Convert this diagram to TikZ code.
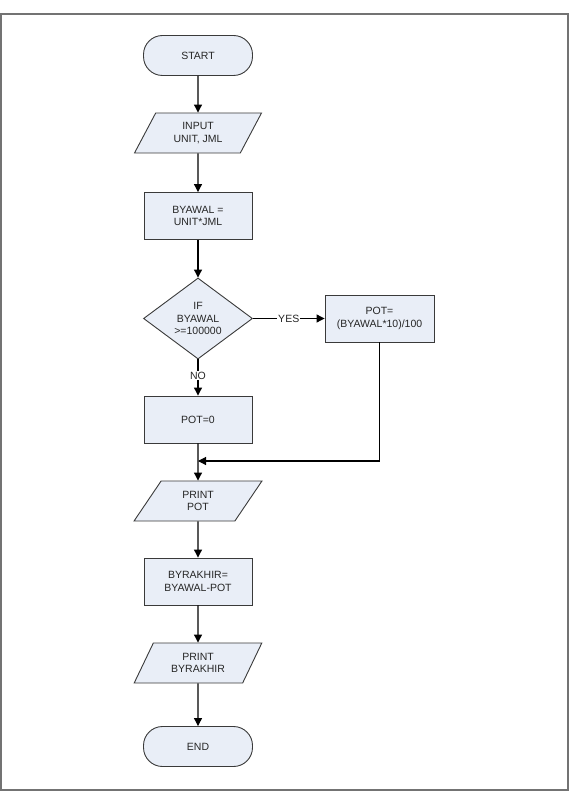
\documentclass[tikz,border=0pt]{standalone}
\usepackage{fontspec}
\setmainfont{Liberation Sans}
\usetikzlibrary{shapes.geometric,arrows.meta}
\definecolor{boxfill}{HTML}{E9EEF7}
\definecolor{boxdraw}{HTML}{3A3A3A}
\tikzset{
  every node/.style={font=\fontsize{10.5}{12.7}\selectfont, align=center, text=black!85},
  base/.style={draw=boxdraw, fill=boxfill, line width=0.9pt, inner sep=0pt},
  term/.style={base, rectangle, rounded corners=19pt, minimum width=109pt, minimum height=40pt},
  proc/.style={base, rectangle, minimum width=108pt, minimum height=47pt},
  iobox/.style={base, trapezium, trapezium left angle=60, trapezium right angle=120,
    trapezium stretches=true, minimum width=128pt, minimum height=40pt},
  dec/.style={base, diamond, minimum width=109pt, minimum height=81pt, shape aspect=1.35},
  arr/.style={line width=1.1pt, -{Triangle[length=8pt,width=8pt]}},
  lin/.style={line width=1.1pt},
  lbl/.style={fill=white, inner sep=1pt}
}
\begin{document}
\begin{tikzpicture}[x=1pt,y=1pt]
\useasboundingbox (0,0) rectangle (572,-794);
\draw[draw=gray!90!black, line width=1.4pt] (1,-14) rectangle (568,-790);
\node[term] (start) at (198,-55.5) {START};
\node[iobox] (in) at (198,-133) {INPUT\\UNIT, JML};
\node[proc] (byawal) at (198,-216) {BYAWAL =\\UNIT*JML};
\node[dec] (if) at (198,-318.5) {IF\\BYAWAL\\>=100000};
\node[proc, minimum width=109pt] (potyes) at (379.5,-318.5) {POT=\\(BYAWAL*10)/100};
\node[proc] (pot0) at (198,-419.5) {POT=0};
\node[iobox] (print) at (198,-501) {PRINT\\POT};
\node[proc] (byr) at (198,-581.5) {BYRAKHIR=\\BYAWAL-POT};
\node[iobox] (printb) at (198,-663) {PRINT\\BYRAKHIR};
\node[term] (end) at (198,-746.5) {END};
\coordinate (j) at (198,-461);
\draw[arr] (start) -- (in);
\draw[arr] (in) -- (byawal);
\draw[arr] (byawal) -- (if);
\draw[arr] (if) -- node[lbl] {YES} (potyes);
\draw[arr] (if) -- node[lbl, pos=0.45] {NO} (pot0);
\draw[arr] (potyes.south) |- (j);
\draw[arr] (pot0) -- (print);
\draw[arr] (print) -- (byr);
\draw[arr] (byr) -- (printb);
\draw[arr] (printb) -- (end);
\end{tikzpicture}
\end{document}
